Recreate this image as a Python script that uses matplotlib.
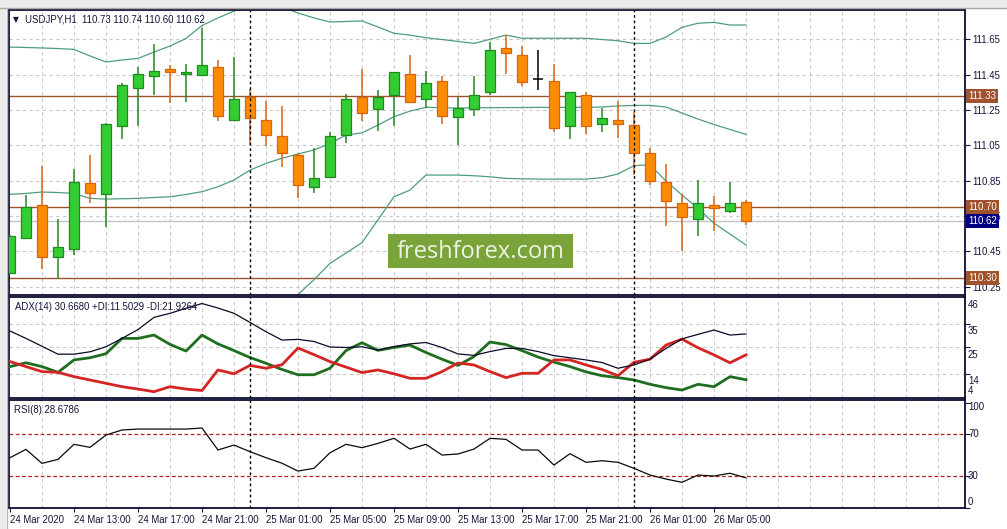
import matplotlib
matplotlib.use("Agg")
import matplotlib.pyplot as plt
from matplotlib.patches import Rectangle
from matplotlib.lines import Line2D
import numpy as np

# ---------------- data ----------------
opens = [110.329, 110.524, 110.711, 110.421, 110.462, 110.835, 110.773, 111.161, 111.376, 111.441,
         111.480, 111.454, 111.450, 111.492, 111.192, 111.322, 111.193, 111.103, 110.995, 110.813,
         110.873, 111.108, 111.322, 111.256, 111.335, 111.454, 111.311, 111.414, 111.212, 111.254,
         111.350, 111.599, 111.561, 111.424, 111.414, 111.161, 111.337, 111.169, 111.193, 111.163,
         111.005, 110.841, 110.722, 110.631, 110.712, 110.680, 110.73]
highs = [110.540, 110.769, 110.933, 110.631, 110.914, 110.995, 111.179, 111.404, 111.495, 111.625,
         111.505, 111.510, 111.714, 111.531, 111.548, 111.367, 111.301, 111.273, 111.005, 111.033,
         111.127, 111.339, 111.482, 111.363, 111.465, 111.561, 111.471, 111.441, 111.322, 111.441,
         111.633, 111.674, 111.612, 111.588, 111.509, 111.350, 111.350, 111.260, 111.301, 111.240,
         111.033, 110.947, 110.773, 110.854, 110.763, 110.841, 110.74]
lows = [110.329, 110.524, 110.350, 110.292, 110.429, 110.722, 110.590, 111.084, 111.159, 111.335,
        111.291, 111.297, 111.450, 111.189, 111.192, 111.052, 111.046, 110.929, 110.750, 110.782,
        110.873, 111.062, 111.189, 111.131, 111.159, 111.297, 111.260, 111.169, 111.052, 111.218,
        111.335, 111.454, 111.387, 111.361, 111.127, 111.084, 111.114, 111.125, 111.090, 110.882,
        110.826, 110.591, 110.454, 110.539, 110.565, 110.665, 110.60]
closes = [110.537, 110.703, 110.416, 110.473, 110.841, 110.782, 111.171, 111.391, 111.454, 111.471,
          111.463, 111.465, 111.503, 111.218, 111.311, 111.203, 111.108, 111.005, 110.824, 110.863,
          111.103, 111.312, 111.231, 111.322, 111.465, 111.297, 111.401, 111.218, 111.260, 111.337,
          111.588, 111.571, 111.410, 111.424, 111.150, 111.350, 111.161, 111.203, 111.169, 111.008,
          110.850, 110.735, 110.643, 110.722, 110.694, 110.722, 110.62]

bb_upper = [111.606, 111.604, 111.601, 111.598, 111.593, 111.556, 111.522, 111.533, 111.542, 111.578,
            111.612, 111.655, 111.728, 111.771, 111.810, 111.838, 111.850, 111.833, 111.799, 111.771,
            111.748, 111.751, 111.754, 111.720, 111.684, 111.674, 111.659, 111.649, 111.638, 111.627,
            111.650, 111.674, 111.656, 111.656, 111.656, 111.656, 111.656, 111.649, 111.642, 111.627,
            111.627, 111.663, 111.718, 111.741, 111.746, 111.731, 111.731]
bb_middle = [110.773, 110.778, 110.786, 110.783, 110.778, 110.750, 110.746, 110.748, 110.750, 110.755,
             110.759, 110.772, 110.788, 110.816, 110.854, 110.910, 110.948, 110.977, 111.001, 111.024,
             111.061, 111.108, 111.121, 111.165, 111.212, 111.244, 111.265, 111.264, 111.260, 111.263,
             111.263, 111.264, 111.264, 111.265, 111.265, 111.265, 111.265, 111.267, 111.273, 111.276,
             111.276, 111.267, 111.233, 111.199, 111.168, 111.140, 111.112]
bb_lower = [109.940, 109.952, 109.971, 109.968, 109.963, 109.944, 109.970, 109.963, 109.958, 109.932,
            109.906, 109.889, 109.848, 109.861, 109.898, 109.982, 110.046, 110.121, 110.206, 110.290,
            110.382, 110.441, 110.499, 110.629, 110.759, 110.797, 110.882, 110.882, 110.882, 110.878,
            110.872, 110.863, 110.861, 110.859, 110.859, 110.859, 110.859, 110.867, 110.888, 110.935,
            110.940, 110.848, 110.769, 110.694, 110.609, 110.548, 110.486]

adx = [31.9, 28.8, 25.5, 22.2, 22.2, 23.2, 25.3, 28.8, 32.5, 37.6,
       39.3, 41.4, 43.4, 41.5, 39.3, 35.5, 31.6, 28.1, 28.4, 27.5,
       25.2, 25.0, 25.3, 23.9, 25.4, 26.5, 27.1, 25.0, 22.3, 21.7,
       23.3, 24.6, 24.6, 23.3, 21.6, 20.7, 19.8, 18.7, 16.3, 17.7,
       20.1, 24.6, 28.6, 30.5, 32.3, 30.2, 30.67]
plus_di = [17.0, 18.6, 17.0, 14.6, 19.8, 20.7, 22.4, 28.8, 28.8, 30.2,
           26.3, 23.5, 30.2, 26.5, 23.7, 20.8, 18.4, 15.8, 13.6, 13.6,
           16.3, 23.7, 27.0, 23.8, 25.0, 26.0, 22.9, 20.1, 17.5, 21.2,
           27.3, 26.2, 23.7, 21.0, 18.9, 17.0, 14.8, 13.2, 12.4, 11.4,
           9.6, 8.2, 7.2, 9.6, 8.6, 12.8, 11.50]
minus_di = [19.1, 17.0, 14.9, 14.6, 12.8, 11.4, 10.0, 8.6, 7.6, 6.5,
            8.6, 7.6, 7.0, 15.6, 14.0, 17.5, 16.3, 17.8, 24.8, 22.0,
            19.1, 16.8, 14.5, 15.6, 14.0, 12.1, 12.1, 14.9, 18.5, 17.7,
            14.9, 12.4, 14.2, 14.2, 19.8, 19.8, 17.7, 15.8, 13.2, 18.8,
            20.1, 26.0, 28.5, 24.9, 21.9, 18.6, 21.93]
rsi = [47.8, 55.7, 42.4, 46.2, 60.5, 57.6, 69.3, 74.1, 75.0, 75.0,
       75.0, 75.0, 76.0, 55.1, 59.8, 53.5, 47.8, 42.5, 35.1, 37.7,
       52.5, 60.5, 57.3, 61.4, 66.2, 56.0, 60.5, 50.3, 51.3, 56.0,
       66.2, 65.2, 55.1, 55.1, 40.8, 51.6, 43.4, 44.9, 43.4, 37.7,
       31.3, 27.5, 24.4, 31.3, 30.4, 33.0, 28.68]

time_labels = ["24 Mar 2020", "24 Mar 13:00", "24 Mar 17:00", "24 Mar 21:00",
               "25 Mar 01:00", "25 Mar 05:00", "25 Mar 09:00", "25 Mar 13:00",
               "25 Mar 17:00", "25 Mar 21:00", "26 Mar 01:00", "26 Mar 05:00"]
time_label_bars = [0, 4, 8, 12, 16, 20, 24, 28, 32, 36, 40, 44]
day_breaks = [15, 39]
levels = [111.33, 110.70, 110.30]
last_price = 110.62
price_ticks = [111.65, 111.45, 111.25, 111.05, 110.85, 110.65, 110.45, 110.25]
adx_grid = [35, 25, 14]
adx_labels = [46, 35, 25, 14]
rsi_levels = [70, 30]
rsi_labels = [100, 70, 30, 0]
title = "USDJPY,H1  110.73 110.74 110.60 110.62"
adx_title = "ADX(14) 30.6680 +DI:11.5029 -DI:21.9264"
rsi_title = "RSI(8) 28.6786"

# ---------------- layout ----------------
W, H = 1007, 529
PT = 0.72  # points per pixel at 100 dpi
FONT = "Liberation Sans"
FS = 6.9
NAVY = "#14143c"
plt.rcParams["font.family"] = [FONT, "DejaVu Sans"]

fig = plt.figure(figsize=(W / 100, H / 100), dpi=100, facecolor="white")

def fbox(x0, y0, x1, y1):
    return [x0 / W, 1 - y1 / H, (x1 - x0) / W, (y1 - y0) / H]

# window chrome
fig.add_artist(Rectangle((0, 1 - 7.5 / H), 1, 7.5 / H, transform=fig.transFigure,
                         facecolor="#ececec", edgecolor="none", zorder=0))
fig.add_artist(Rectangle((0, 0), 6 / W, 1, transform=fig.transFigure,
                         facecolor="#ececec", edgecolor="none", zorder=0))
fig.add_artist(Line2D([0, 1], [1 - 7.5 / H] * 2, transform=fig.transFigure, color="#a8a8a8", lw=1))
fig.add_artist(Line2D([6.5 / W] * 2, [0, 1 - 7.5 / H], transform=fig.transFigure, color="#b8b8b8", lw=1))

ax_m = fig.add_axes(fbox(9, 10, 965, 294.5))
ax_a = fig.add_axes(fbox(9, 297.3, 965, 397.7))
ax_r = fig.add_axes(fbox(9, 400, 965, 508))

n = len(opens)
x = np.arange(n)
xlim = (-0.0625, 59.6875)
grid_x = np.arange(2, 60, 2)

for ax in (ax_m, ax_a, ax_r):
    ax.set_xlim(*xlim)
    for s in ax.spines.values():
        s.set_color("#0c0c30")
        s.set_linewidth(1.3)
    ax.set_xticks(grid_x, minor=True)
    ax.grid(which="minor", axis="x", color="#c9c9c9", ls=(0, (3, 3)), lw=0.8)
    ax.tick_params(axis="x", which="minor", length=0)
    ax.yaxis.tick_right()
    ax.tick_params(axis="y", length=3.5, width=0.8, color=NAVY, labelsize=FS, labelcolor=NAVY, pad=2)
    for b in day_breaks:
        ax.axvline(b, color="black", ls=(0, (2, 2)), lw=1, zorder=4)
    ax.set_axisbelow(True)

# ---------------- main panel ----------------
ax_m.set_ylim(110.206, 111.816)
ax_m.set_yticks(price_ticks)
ax_m.set_yticklabels([f"{p:.2f}" for p in price_ticks])
ax_m.grid(which="major", axis="y", color="#c9c9c9", ls=(0, (3, 3)), lw=0.8)
ax_m.set_xticks([])

o = np.array(opens); c = np.array(closes); hi = np.array(highs); lo = np.array(lows)
bull = c > o
bear = c < o
flat = c == o
wick_colors = np.where(bull, "#1f8a1f", np.where(bear, "#d8650c", "black"))
ax_m.vlines(x, lo, hi, colors=wick_colors, lw=1.1, zorder=3)
ax_m.bar(x[bull], (c - o)[bull], bottom=o[bull], width=0.62, color="#33cc33",
         edgecolor="#1f8a1f", lw=0.9, zorder=3.5)
ax_m.bar(x[bear], (o - c)[bear], bottom=c[bear], width=0.62, color="#ff8c00",
         edgecolor="#d8650c", lw=0.9, zorder=3.5)
ax_m.hlines(o[flat], x[flat] - 0.31, x[flat] + 0.31, colors="black", lw=1.1, zorder=3.5)

bb_col = "#4e9d7d"
for band in (bb_upper, bb_middle, bb_lower):
    ax_m.plot(x, band, color=bb_col, lw=0.9, zorder=2.5)

ax_m.axhline(last_price, color="#c4c4c4", lw=1, zorder=1.5)
for lv in levels:
    ax_m.axhline(lv, color="#a0522d", lw=1, zorder=2)

for lv in levels:
    ax_m.annotate(f"{lv:.2f}", xy=(1, lv), xycoords=("axes fraction", "data"),
                  xytext=(3.2 * PT, 0), textcoords="offset points", ha="left", va="center",
                  fontsize=FS, color="white", annotation_clip=False,
                  bbox=dict(boxstyle="square,pad=0.22", fc="#a0522d", ec="none"), zorder=10)
ax_m.annotate(f"{last_price:.2f}", xy=(1, last_price), xycoords=("axes fraction", "data"),
              xytext=(3.2 * PT, 0), textcoords="offset points", ha="left", va="center",
              fontsize=FS, color="white", annotation_clip=False,
              bbox=dict(boxstyle="square,pad=0.22", fc="#000080", ec="none"), zorder=10)

ax_m.annotate("\u25BC", xy=(0, 1), xycoords="axes fraction", xytext=(4 * PT, -10 * PT),
              textcoords="offset points", ha="left", va="center", fontsize=5.5, color=NAVY,
              family="DejaVu Sans")
ax_m.annotate(title, xy=(0, 1), xycoords="axes fraction", xytext=(16.5 * PT, -10 * PT),
              textcoords="offset points", ha="left", va="center", fontsize=FS, color=NAVY)

# watermark
fig.add_artist(Rectangle((388 / W, 1 - 268 / H), (573 - 388) / W, (268 - 234) / H,
                         transform=fig.transFigure, facecolor="#7aa33a", edgecolor="none", zorder=5))
fig.text(481 / W, 1 - 251.5 / H, "freshforex.com", ha="center", va="center", fontsize=17,
         color="#eef3e6", family="Open Sans", zorder=6)

# ---------------- ADX panel ----------------
ax_a.set_ylim(3.99, 46)
ax_a.set_yticks(adx_grid)
ax_a.set_yticklabels([])
ax_a.grid(which="major", axis="y", color="#c9c9c9", ls=(0, (3, 3)), lw=0.8)
ax_a.set_xticks([])
ax_a.plot(x, plus_di, color="#1f6e1f", lw=2, zorder=3)
ax_a.plot(x, minus_di, color="#d42424", lw=2, zorder=3)
ax_a.plot(x, adx, color="#0a0a28", lw=0.9, zorder=3.2)
for v in adx_labels:
    ax_a.annotate(str(v), xy=(1, v), xycoords=("axes fraction", "data"), xytext=(3 * PT, -7.5 * PT),
                  textcoords="offset points", ha="left", va="center", fontsize=FS, color=NAVY,
                  annotation_clip=False)
ax_a.annotate("4", xy=(1, 0), xycoords="axes fraction", xytext=(3 * PT, 6.5 * PT),
              textcoords="offset points", ha="left", va="center", fontsize=FS, color=NAVY,
              annotation_clip=False)
ax_a.annotate(adx_title, xy=(0, 1), xycoords="axes fraction", xytext=(6 * PT, -9.5 * PT),
              textcoords="offset points", ha="left", va="center", fontsize=FS, color=NAVY)

# ---------------- RSI panel ----------------
ax_r.set_ylim(0, 102.6)
ax_r.set_yticks(rsi_labels)
ax_r.set_yticklabels([])
for lv in rsi_levels:
    ax_r.axhline(lv, color="#b22222", ls=(0, (3, 2)), lw=0.9, zorder=2)
ax_r.plot(x, rsi, color="#0a0a0a", lw=0.9, zorder=3)
rsi_off = {100: -4.6, 70: 0, 30: 0, 0: 5.7}
for v in rsi_labels:
    ax_r.annotate(str(v), xy=(1, v), xycoords=("axes fraction", "data"),
                  xytext=(3 * PT, rsi_off[v] * PT), textcoords="offset points", ha="left",
                  va="center", fontsize=FS, color=NAVY, annotation_clip=False)
ax_r.annotate(rsi_title, xy=(0, 1), xycoords="axes fraction", xytext=(5 * PT, -10 * PT),
              textcoords="offset points", ha="left", va="center", fontsize=FS, color=NAVY)

ax_r.set_xticks(time_label_bars)
ax_r.set_xticklabels(time_labels)
ax_r.tick_params(axis="x", which="major", length=4 * PT / 0.72 * 0.72, width=0.8, color=NAVY,
                 labelsize=FS, labelcolor=NAVY, pad=2.5)
for lab in ax_r.get_xticklabels():
    lab.set_ha("left")

fig.savefig("out.png", dpi=100, facecolor="white")
